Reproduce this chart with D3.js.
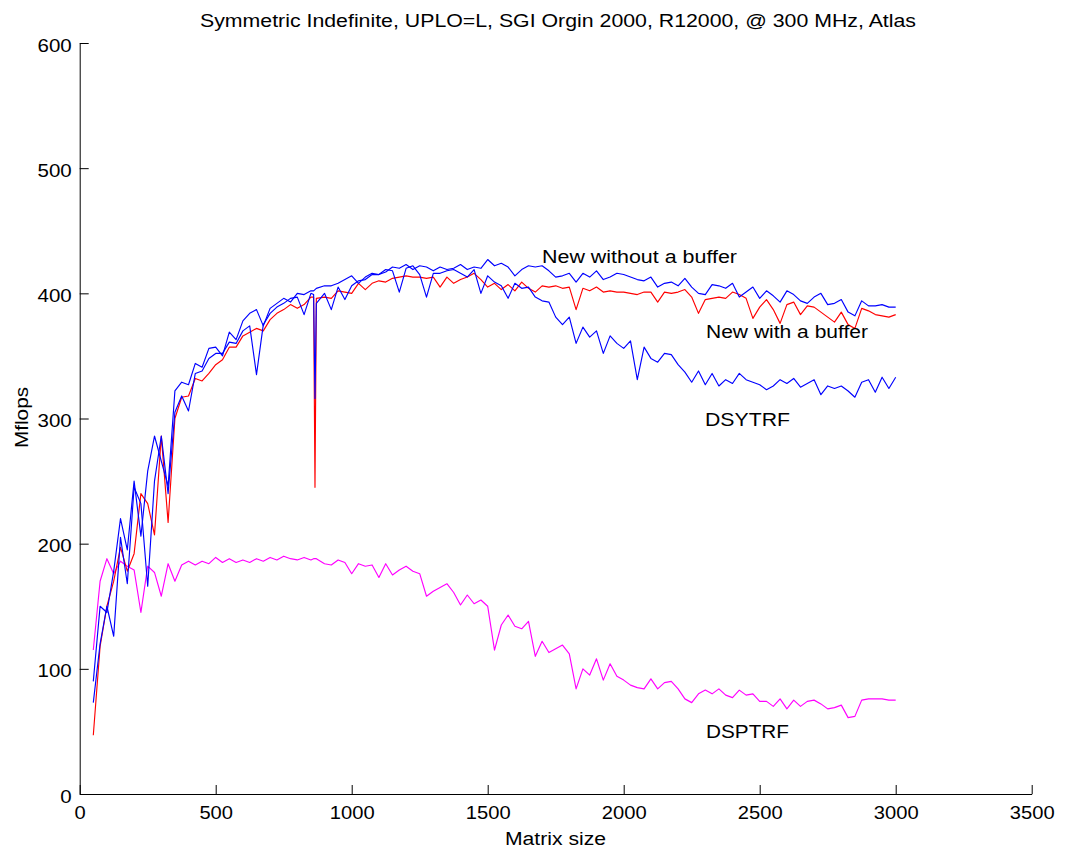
<!DOCTYPE html>
<html><head><meta charset="utf-8">
<script src="https://cdn.jsdelivr.net/npm/d3@7"></script>
<style>
body{margin:0;background:#fff}
svg{display:block}
text{font-family:"Liberation Sans",Arial,Helvetica,sans-serif;fill:#000}
</style>
</head><body>
<svg id="c" width="1065" height="852"></svg>
<script>
const titleText = "Symmetric Indefinite, UPLO=L, SGI Orgin 2000, R12000, @ 300 MHz, Atlas";
const xLabel = "Matrix size";
const yLabel = "Mflops";
const xTicks = [0,500,1000,1500,2000,2500,3000,3500];
const yTicks = [0,100,200,300,400,500,600];

const matrixSizes = [50,75,100,125,150,175,200,225,250,275,
300,325,350,375,400,425,450,475,500,525,
550,575,600,625,650,675,700,725,750,775,
800,825,850,860,865,870,900,925,950,975,1000,1025,
1050,1075,1100,1125,1150,1175,1200,1225,1250,1275,
1300,1325,1350,1375,1400,1425,1450,1475,1500,1525,
1550,1575,1600,1625,1650,1675,1700,1725,1750,1775,
1800,1825,1850,1875,1900,1925,1950,1975,2000,2025,
2050,2075,2100,2125,2150,2175,2200,2225,2250,2275,
2300,2325,2350,2375,2400,2425,2450,2475,2500,2525,
2550,2575,2600,2625,2650,2675,2700,2725,2750,2775,
2800,2825,2850,2875,2900,2925,2950,2975,3000];

const newWithoutBuffer = [90,150,145,178,220,195,250,206,258,286,
266,246,322,329,327,344,341,356,357,350,
369,363,378,384,387,374,388,392,396,393,
400,399,402,402,403,404,406,406,408,411,414,408,
413,416,415,417,421,420,423,419,422,421,
418,421,419,420,423,419,421,420,427,422,
424,421,414,419,422,421,422,418,413,414,
416,409,416,413,418,411,413,416,415,413,
411,410,413,405,408,409,406,412,405,400,
399,407,406,404,408,397,401,405,396,402,
398,393,402,399,394,392,397,400,391,392,
395,385,382,394,390,390,391,389,389];

const dsytrf = [73,120,150,126,205,168,245,232,166,250,
286,240,305,318,306,336,338,348,352,352,
361,360,370,374,335,375,384,389,392,396,
397,383,400,399,316,392,400,387,405,395,406,410,
411,415,415,419,418,401,420,422,415,397,
416,416,418,419,416,413,419,400,414,409,
406,396,408,404,405,397,394,393,381,375,
381,360,373,365,370,352,366,360,356,362,
331,357,348,345,352,351,343,337,329,338,
327,336,326,331,328,336,331,329,327,323,
326,331,328,332,325,328,331,319,326,324,
326,322,317,329,331,321,333,324,333];

const newWithBuffer = [47,118,150,170,197,178,192,240,232,207,
286,217,300,317,318,332,330,336,343,347,
357,357,366,369,372,370,379,384,387,391,
388,391,397,397,245,396,397,396,402,401,400,408,
403,408,410,409,412,413,414,413,413,412,
413,405,413,408,411,413,416,411,405,408,
403,407,402,409,404,401,406,405,406,404,
405,387,404,402,405,401,402,401,401,400,
399,401,401,393,401,400,401,403,397,384,
395,396,397,396,401,399,396,380,389,395,
387,376,391,393,383,390,389,385,381,377,
385,375,372,388,386,383,382,381,383];

const dsptrf = [115,170,188,176,186,182,179,145,182,177,
158,184,170,183,186,183,186,184,189,185,
188,185,187,185,188,186,189,187,190,188,
187,189,187,188,188,188,184,183,187,185,176,184,
182,183,173,184,175,179,182,178,176,158,
162,165,168,161,151,159,152,155,150,115,
135,143,134,132,138,110,122,113,116,119,
112,84,100,95,108,91,104,94,91,87,
85,84,92,84,89,90,84,76,73,80,
83,80,84,79,77,83,79,80,74,74,
70,76,68,75,70,74,75,72,68,69,
71,61,62,75,76,76,76,75,75];

const seriesNames = ["DSPTRF","New with a buffer","DSYTRF","New without a buffer"];
const seriesValues = [dsptrf, newWithBuffer, dsytrf, newWithoutBuffer];
const seriesColors = ["#ff00ff","#ff0000","#0000ff","#0000ff"];

const svg = d3.select("#c");
const x = d3.scaleLinear().domain([0,3500]).range([79.7,1031.7]);
const y = d3.scaleLinear().domain([0,600]).range([794,43]);

function fit(sel, w){ sel.attr("textLength", w).attr("lengthAdjust","spacingAndGlyphs"); }

// lines
const line = d3.line().x((d,i)=>x(matrixSizes[i])).y(d=>y(d));
seriesValues.forEach((vals, k) => {
  svg.append("path").datum(vals)
    .attr("fill","none").attr("stroke",seriesColors[k])
    .attr("stroke-width",1.15).attr("stroke-linejoin","round")
    .attr("d", line);
});

// axes
const xAxis = d3.axisBottom(x).tickValues(xTicks).tickSizeInner(-9).tickSizeOuter(0).tickPadding(12).tickFormat(d3.format("d"));
const gx = svg.append("g").attr("transform","translate(0,794)").call(xAxis);
gx.selectAll("text").attr("font-size","18px").attr("dy",null).attr("y",25)
  .each(function(d){ fit(d3.select(this), String(d).length*11.2); });

const yAxis = d3.axisLeft(y).tickValues(yTicks).tickSizeInner(-9).tickSizeOuter(0).tickPadding(8).tickFormat(d3.format("d"));
const gy = svg.append("g").attr("transform","translate(79.7,0)").call(yAxis);
gy.selectAll("text").attr("font-size","18px").attr("dy",null).attr("y",8).attr("x",-8)
  .each(function(d){ fit(d3.select(this), String(d).length*11.4); });

[gx, gy].forEach(g => {
  g.select(".domain").attr("stroke","#000").attr("stroke-width",1);
  g.selectAll(".tick line").attr("stroke","#000").attr("stroke-width",1);
  g.attr("font-family",null);
});

// title & axis labels
svg.append("text").attr("x",200).attr("y",27).attr("font-size","17.5px")
  .text(titleText).call(fit, 716);
svg.append("text").attr("x",505).attr("y",845).attr("font-size","18px")
  .text(xLabel).call(fit, 101);
svg.append("text").attr("transform","translate(28,448) rotate(-90)").attr("font-size","18px")
  .text(yLabel).call(fit, 61);

// series annotations
const annPos = [
  {name:"New without a buffer", x:542, y:263, w:195},
  {name:"New with a buffer", x:706, y:338, w:162},
  {name:"DSYTRF", x:705, y:426, w:85},
  {name:"DSPTRF", x:706, y:738, w:83}
];
annPos.forEach(a => {
  svg.append("text").attr("x",a.x).attr("y",a.y).attr("font-size","17.5px")
    .text(a.name).call(fit, a.w);
});
</script>
</body></html>
